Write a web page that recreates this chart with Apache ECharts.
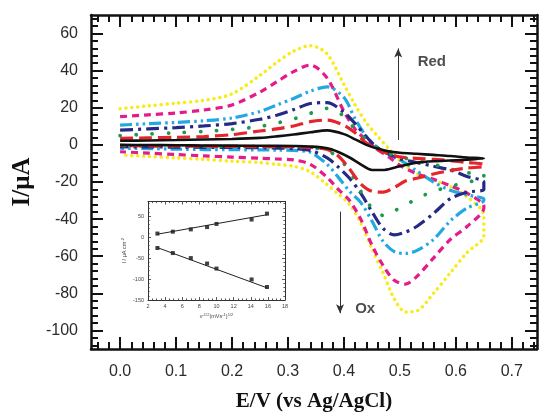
<!DOCTYPE html>
<html>
<head>
<meta charset="utf-8">
<script src="https://cdn.jsdelivr.net/npm/echarts@6/dist/echarts.min.js"></script>
<style>
  html, body { margin: 0; padding: 0; background: #fff; }
  #chart { width: 542px; height: 419px; }
</style>
</head>
<body>
<div id="chart"></div>
<script>
// Potential grid for the forward (0 -> 0.65 V) and reverse (0.65 -> 0 V) sweeps
const potentialFwd = [0, 0.05, 0.10, 0.15, 0.20, 0.25, 0.28, 0.31, 0.34, 0.37, 0.40, 0.42, 0.44, 0.46, 0.48, 0.50, 0.53, 0.56, 0.59, 0.62, 0.65];
const potentialRev = [0.65, 0.62, 0.59, 0.56, 0.53, 0.51, 0.49, 0.47, 0.45, 0.43, 0.41, 0.39, 0.37, 0.34, 0.31, 0.28, 0.25, 0.20, 0.15, 0.10, 0.05, 0];

// Current (µA) of each voltammogram, one array per sweep direction
const blackFwd   = [2.2, 2.4, 2.6, 2.9, 3.2, 3.8, 4.6, 5.6, 6.8, 7.8, 5.8, 3.0, 0.0, -2.0, -3.5, -4.2, -4.8, -5.4, -6.0, -6.8, -7.4];
const blackRev   = [-7.6, -8.0, -8.4, -8.8, -9.6, -10.8, -12.3, -13.5, -13.5, -10.5, -6.8, -3.8, -1.8, -0.9, -0.6, -0.5, -0.5, -0.4, -0.3, -0.2, -0.1, 0.0];
const redFwd     = [3.5, 3.8, 4.1, 4.5, 5.5, 7.5, 8.6, 10.2, 12.5, 13.4, 10.5, 6.5, 1.0, -2.5, -4.8, -6.5, -7.3, -7.8, -8.5, -9.5, -10.5];
const redRev     = [-11.5, -12.5, -13.8, -15.7, -18.0, -19.5, -23.0, -25.5, -25.0, -21.0, -13.0, -6.0, -2.5, -1.3, -1.0, -1.0, -0.9, -0.8, -0.7, -0.6, -0.5, -0.3];
const greenFwd   = [5.0, 5.8, 6.5, 7.3, 8.3, 10.0, 11.8, 14.0, 17.0, 19.7, 15.5, 8.5, 3.0, -1.5, -4.5, -6.5, -8.5, -10.5, -13.0, -15.0, -16.0];
const greenRev   = [-18.5, -20.0, -22.5, -25.0, -29.0, -32.5, -35.5, -38.0, -34.0, -25.0, -14.0, -7.0, -3.0, -1.5, -1.2, -1.0, -0.9, -0.8, -0.7, -0.6, -0.5, -0.4];
const navyFwd    = [8.0, 8.6, 9.3, 10.2, 11.5, 13.8, 16.0, 19.0, 22.3, 22.8, 17.5, 11.5, 4.4, -1.5, -5.0, -7.5, -9.5, -11.5, -13.5, -17.0, -20.0];
const navyRev    = [-24.0, -25.5, -29.0, -37.0, -44.0, -47.0, -48.5, -45.0, -36.0, -26.0, -18.0, -12.0, -7.0, -3.0, -2.0, -1.7, -1.5, -1.4, -1.3, -1.2, -1.1, -1.0];
const cyanFwd    = [10.7, 11.4, 12.1, 13.0, 14.5, 18.0, 21.5, 25.0, 29.0, 31.3, 25.5, 14.0, 4.5, -1.5, -5.0, -8.0, -14.0, -20.0, -24.5, -27.0, -29.0];
const cyanRev    = [-30.0, -34.0, -41.0, -51.0, -57.0, -58.5, -57.5, -52.0, -41.0, -31.0, -25.0, -17.5, -10.5, -4.0, -3.0, -2.8, -2.7, -2.6, -2.5, -2.3, -2.0, -1.8];
const magentaFwd = [15.2, 16.2, 17.2, 18.8, 21.5, 28.5, 34.0, 39.5, 43.0, 36.0, 18.0, 8.5, 2.5, -2.5, -6.5, -11.0, -15.5, -18.5, -22.0, -26.0, -33.0];
const magentaRev = [-34.0, -44.0, -51.0, -61.0, -71.0, -75.0, -73.0, -65.0, -54.0, -40.0, -30.0, -24.0, -17.5, -10.5, -8.1, -7.6, -7.2, -6.6, -5.9, -5.2, -4.4, -3.7];
const yellowFwd  = [19.5, 21.0, 22.5, 24.0, 27.5, 37.5, 44.5, 50.5, 53.5, 49.0, 32.5, 21.5, 12.0, 4.8, -2.0, -8.5, -15.5, -19.0, -22.5, -28.0, -38.0];
const yellowRev  = [-49.0, -58.0, -69.0, -80.0, -89.5, -90.0, -83.0, -69.0, -56.0, -42.0, -32.0, -26.5, -21.5, -14.5, -11.5, -10.5, -9.5, -8.8, -7.8, -7.0, -6.2, -5.4];

// Inset: peak current density vs. inverse square root of scan rate
const insetX        = [3.1, 4.9, 7.0, 8.9, 10.0, 14.1, 15.9];
const insetUpper    = [8.5, 13.0, 18.5, 24.0, 31.5, 42.0, 56.0];
const insetLower    = [-26.0, -38.0, -50.0, -63.0, -75.0, -101.0, -119.0];
const fitX          = [3.1, 15.9];
const fitUpper      = [7.0, 53.5];
const fitLower      = [-25.0, -121.0];

// Tick values
const potentialTicks = [0, 0.1, 0.2, 0.3, 0.4, 0.5, 0.6, 0.7];
const currentTicks   = [-100, -80, -60, -40, -20, 0, 20, 40, 60];
const insetXTicks    = [2, 4, 6, 8, 10, 12, 14, 16, 18];
const insetYTicks    = [-150, -100, -50, 0, 50];

function steps(from, to, step, skip) {
  const out = [];
  const n = Math.round((to - from) / step);
  for (let i = 0; i <= n; i++) {
    const v = +(from + i * step).toFixed(6);
    if (!skip.some(s => Math.abs(s - v) < 1e-9)) out.push(v);
  }
  return out;
}

const potentialMinor = steps(-0.04, 0.74, 0.02, potentialTicks);
const currentMinor   = steps(-108, 68, 4, currentTicks);
const insetXMinor    = steps(2, 18, 0.5, insetXTicks);
const insetYMinor    = steps(-150, 80, 10, insetYTicks);

function loop(fwd, rev) {
  return potentialFwd.map((e, i) => [e, fwd[i]])
    .concat(potentialRev.map((e, i) => [e, rev[i]]));
}

const mainX = { min: -0.052, max: 0.745 };
const mainY = { min: -110, max: 70 };
const insX  = { min: 2, max: 18 };
const insY  = { min: -150, max: 85 };

const xAxes = [];
const yAxes = [];

// One axis per side for the major ticks (plus line/labels), one for minor ticks
function frameAxes(list, grid, positions, range, majors, minors, opt) {
  const idx = list.length;
  positions.forEach((pos, k) => {
    const first = k === 0;
    list.push(Object.assign({
      type: 'value', gridIndex: grid, position: pos,
      min: range.min, max: range.max,
      axisLine: { show: true, onZero: false, lineStyle: { color: opt.color, width: opt.lineWidth } },
      axisTick: { show: true, inside: true, length: opt.major, customValues: majors,
                  lineStyle: { color: opt.color, width: opt.tickWidth } },
      axisLabel: first ? Object.assign({ show: true, customValues: majors }, opt.label) : { show: false },
      splitLine: { show: false }
    }, first ? opt.name : {}));
    list.push({
      type: 'value', gridIndex: grid, position: pos,
      min: range.min, max: range.max,
      axisLine: { show: false, onZero: false },
      axisTick: { show: true, inside: true, length: opt.minor, customValues: minors,
                  lineStyle: { color: opt.color, width: opt.tickWidth } },
      axisLabel: { show: false },
      splitLine: { show: false }
    });
  });
  return idx;
}

const mainLabel = { fontFamily: 'Liberation Sans, Arial', fontSize: 16, color: '#2b2b2b' };
const mainNameStyle = { fontFamily: 'Liberation Serif, Times New Roman', fontWeight: 'bold', color: '#111' };

const mainXi = frameAxes(xAxes, 0, ['bottom', 'top'], mainX, potentialTicks, potentialMinor, {
  color: '#111', lineWidth: 2.5, tickWidth: 2, major: 12, minor: 7,
  label: Object.assign({ margin: 15, formatter: v => v.toFixed(1) }, mainLabel),
  name: { name: 'E/V (vs Ag/AgCl)', nameLocation: 'middle', nameGap: 42,
          nameTextStyle: Object.assign({ fontSize: 21 }, mainNameStyle) }
});
const mainYi = frameAxes(yAxes, 0, ['left', 'right'], mainY, currentTicks, currentMinor, {
  color: '#111', lineWidth: 2.5, tickWidth: 2, major: 12, minor: 7,
  label: Object.assign({ margin: 13 }, mainLabel),
  name: { name: 'I/μA', nameLocation: 'middle', nameGap: 53,
          nameTextStyle: Object.assign({ fontSize: 25 }, mainNameStyle) }
});

const insetLabel = { fontFamily: 'Liberation Sans, Arial', fontSize: 5.5, color: '#444' };
const insetNameStyle = {
  fontFamily: 'Liberation Sans, Arial', fontSize: 5.5, color: '#444',
  rich: { sup: { fontSize: 4, verticalAlign: 'top', color: '#444', padding: [0, 0, 3, 0] } }
};

const insXi = frameAxes(xAxes, 1, ['bottom', 'top'], insX, insetXTicks, insetXMinor, {
  color: '#333', lineWidth: 1, tickWidth: 0.8, major: 3, minor: 1.6,
  label: Object.assign({ margin: 3.5 }, insetLabel),
  name: { name: 'ν{sup|-1/2}(mVs{sup|-1}){sup|1/2}', nameLocation: 'middle', nameGap: 13,
          nameTextStyle: insetNameStyle }
});
const insYi = frameAxes(yAxes, 1, ['left', 'right'], insY, insetYTicks, insetYMinor, {
  color: '#333', lineWidth: 1, tickWidth: 0.8, major: 3, minor: 1.6,
  label: Object.assign({ margin: 4 }, insetLabel),
  name: { name: 'I / μA cm{sup|-2}', nameLocation: 'middle', nameGap: 20,
          nameTextStyle: insetNameStyle }
});

function cv(name, fwd, rev, color, width, dash, cap) {
  return {
    name: name, type: 'line', xAxisIndex: mainXi, yAxisIndex: mainYi,
    data: loop(fwd, rev), showSymbol: false, smooth: 0.3,
    lineStyle: { color: color, width: width, type: dash, cap: cap || 'butt' },
    z: 3
  };
}

const curves = [
  cv('yellow',  yellowFwd,  yellowRev,  '#f7ec1a', 3.5, [0.1, 5.8], 'round'),
  cv('magenta', magentaFwd, magentaRev, '#e41c8a', 3.2, [7, 5]),
  cv('cyan',    cyanFwd,    cyanRev,    '#22a9e3', 3.2, [12, 4, 2.5, 4, 2.5, 4]),
  cv('navy',    navyFwd,    navyRev,    '#252a85', 3.2, [13, 5, 3, 5]),
  cv('green',   greenFwd,   greenRev,   '#1e9a50', 3.8, [0.1, 16], 'round'),
  cv('red',     redFwd,     redRev,     '#e6252b', 3.2, [13, 6]),
  cv('black',   blackFwd,   blackRev,   '#111111', 2.6, 'solid')
];

// Arrows and direction labels
curves[curves.length - 1].markLine = {
  silent: true, symbol: ['none', 'arrow'], symbolSize: [6, 9],
  label: { show: false },
  lineStyle: { color: '#333', width: 1, type: 'solid' },
  data: [
    [{ coord: [0.497, 2.6] },  { coord: [0.497, 52.0] }],
    [{ coord: [0.393, -36.0] }, { coord: [0.393, -90.7] }]
  ]
};

const annotations = {
  type: 'scatter', xAxisIndex: mainXi, yAxisIndex: mainYi, symbolSize: 0, silent: true,
  data: [[0.557, 44.8, 'Red'], [0.438, -88.5, 'Ox']],
  label: {
    show: true, position: 'inside', formatter: p => p.value[2],
    fontFamily: 'Liberation Sans, Arial', fontWeight: 'bold', fontSize: 15, color: '#222'
  },
  z: 5
};

const insetSeries = [
  { type: 'line', xAxisIndex: insXi, yAxisIndex: insYi, showSymbol: false,
    data: fitX.map((x, i) => [x, fitUpper[i]]), lineStyle: { color: '#222', width: 1 } },
  { type: 'line', xAxisIndex: insXi, yAxisIndex: insYi, showSymbol: false,
    data: fitX.map((x, i) => [x, fitLower[i]]), lineStyle: { color: '#222', width: 1 } },
  { type: 'scatter', xAxisIndex: insXi, yAxisIndex: insYi, symbol: 'rect', symbolSize: 4,
    itemStyle: { color: '#111' }, data: insetX.map((x, i) => [x, insetUpper[i]]) },
  { type: 'scatter', xAxisIndex: insXi, yAxisIndex: insYi, symbol: 'rect', symbolSize: 4,
    itemStyle: { color: '#111' }, data: insetX.map((x, i) => [x, insetLower[i]]) }
];

const chart = echarts.init(document.getElementById('chart'), null, { renderer: 'canvas' });
chart.setOption({
  animation: false,
  backgroundColor: '#ffffff',
  grid: [
    { left: 91, top: 15, right: 5, bottom: 70, containLabel: false, outerBoundsMode: 'none' },
    { left: 148, top: 201.5, width: 137, height: 98.5, containLabel: false, outerBoundsMode: 'none',
      show: true, backgroundColor: '#ffffff', borderWidth: 0 }
  ],
  xAxis: xAxes,
  yAxis: yAxes,
  series: curves.concat([annotations]).concat(insetSeries)
});
</script>
</body>
</html>
